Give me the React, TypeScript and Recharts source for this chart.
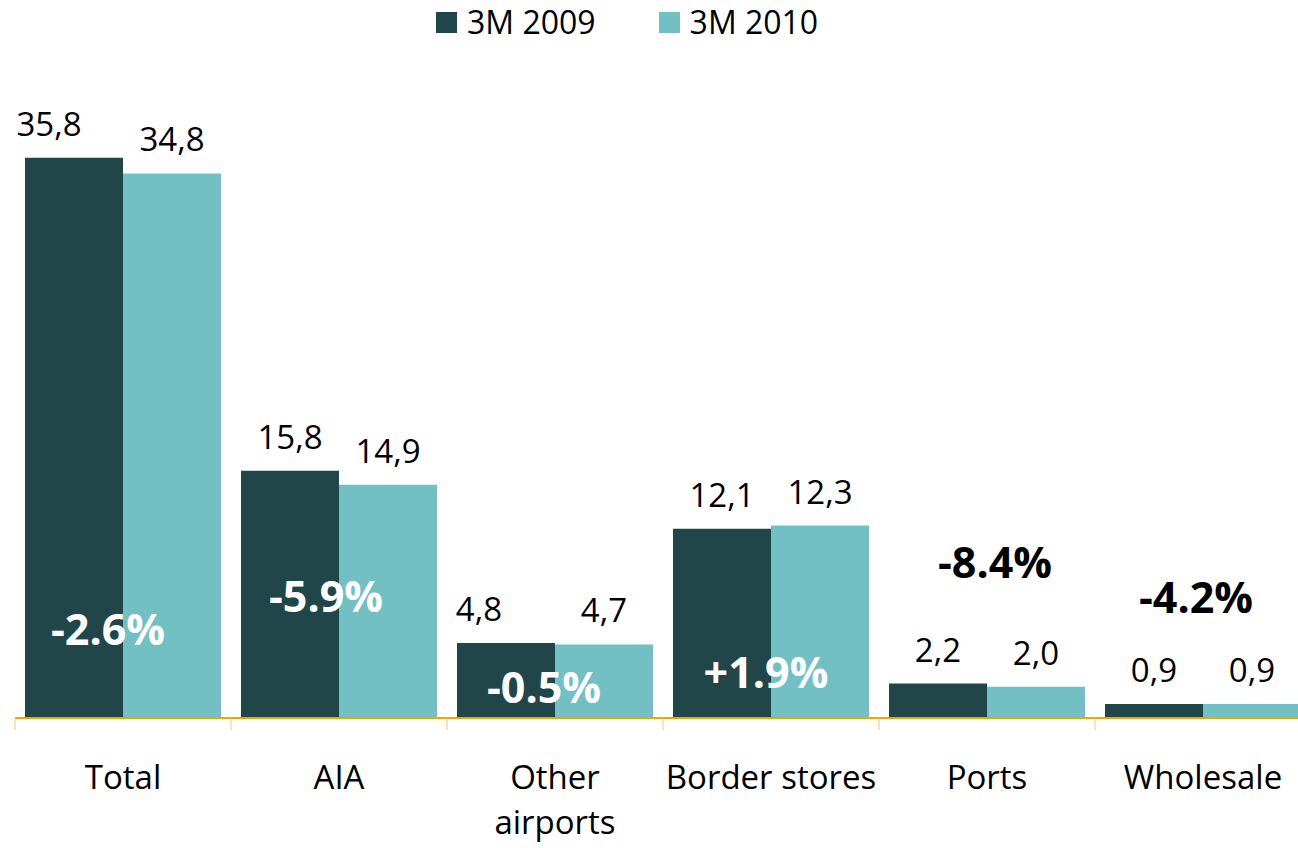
import { BarChart, Bar, XAxis, YAxis, LabelList } from 'recharts';

const categories = ['Total', 'AIA', 'Other airports', 'Border stores', 'Ports', 'Wholesale'];
const values2009 = [35.8, 15.8, 4.8, 12.1, 2.2, 0.9];
const values2010 = [34.8, 14.9, 4.7, 12.3, 2.0, 0.9];
const changes = ['-2.6%', '-5.9%', '-0.5%', '+1.9%', '-8.4%', '-4.2%'];

// where the change labels sit: lift above the baseline and shift from the category centre (px)
const changeLift = [88, 121, 30, 45, 155, 120];
const changeShift = [-15, -13, -11, -5, 8, -7];
// a couple of the 2009 value labels are nudged left in the original
const label2009Shift = [-25, 0, -27, 0, 0, 0];

const DARK = '#21464A';
const LIGHT = '#72BFC4';
const AXIS = '#F5A300';
const FONT = '"Open Sans", sans-serif';

const CHART_W = 1320;
const MARGIN = { top: 92, right: 9, left: 15, bottom: 30 };
const HALF_BAND = (CHART_W - MARGIN.left - MARGIN.right) / categories.length / 2;

const data = categories.map((name, i) => ({
  name,
  y2009: values2009[i],
  y2010: values2010[i],
  change: changes[i],
}));

const fmt = (v: number) => v.toFixed(1).replace('.', ',');

// eslint-disable-next-line @typescript-eslint/no-explicit-any
const valueLabel = (shifts?: number[]) => (props: any) => {
  const { x, y, width, value, index } = props;
  const dx = shifts ? shifts[index] : 0;
  return (
    <text x={x + width / 2 + dx} y={y - 22} textAnchor="middle" fontSize={33} fontFamily={FONT} fill="#000">
      {fmt(value)}
    </text>
  );
};

// eslint-disable-next-line @typescript-eslint/no-explicit-any
const changeLabel = (props: any) => {
  const { x, y, width, height, index } = props;
  const base = y + height;
  const lift = changeLift[index];
  const inside = lift < height;
  return (
    <text
      x={x + width + changeShift[index]}
      y={base - lift + 15}
      textAnchor="middle"
      fontSize={43}
      fontWeight={700}
      fontFamily={FONT}
      fill={inside ? '#fff' : '#000'}
    >
      {changes[index]}
    </text>
  );
};

// eslint-disable-next-line @typescript-eslint/no-explicit-any
const CategoryTick = (props: any) => {
  const { x, y, payload } = props;
  const words = String(payload.value) === 'Other airports' ? ['Other', 'airports'] : [String(payload.value)];
  return (
    <g>
      <line x1={x - HALF_BAND} y1={y} x2={x - HALF_BAND} y2={y + 12} stroke="#F9C46A" strokeWidth={1} />
      <text x={x} y={y + 71} textAnchor="middle" fontSize={33} fontFamily={FONT} fill="#000">
        {words.map((w, i) => (
          <tspan key={w} x={x} dy={i === 0 ? 0 : 45}>
            {w}
          </tspan>
        ))}
      </text>
    </g>
  );
};

function LegendItem({ color, label }: { color: string; label: string }) {
  return (
    <div style={{ display: 'flex', alignItems: 'center', height: 32 }}>
      <div style={{ width: 21, height: 21, background: color, marginRight: 10 }} />
      <span style={{ fontSize: 32, lineHeight: 1, color: '#000' }}>{label}</span>
    </div>
  );
}

export default function App() {
  return (
    <div
      style={{
        position: 'absolute',
        left: 0,
        top: 0,
        width: 1298,
        height: 848,
        overflow: 'hidden',
        background: '#fff',
        fontFamily: FONT,
      }}
    >
      <div style={{ position: 'absolute', top: 6, left: 436, display: 'flex', gap: 63 }}>
        <LegendItem color={DARK} label="3M 2009" />
        <LegendItem color={LIGHT} label="3M 2010" />
      </div>
      <BarChart
        width={CHART_W}
        height={848}
        data={data}
        margin={MARGIN}
        barCategoryGap={10}
        barGap={0}
      >
        <XAxis
          dataKey="name"
          height={100}
          tickLine={false}
          tickSize={0}
          tickMargin={0}
          axisLine={{ stroke: AXIS, strokeWidth: 2 }}
          tick={<CategoryTick />}
          interval={0}
        />
        <YAxis hide domain={[0, 40]} />
        <Bar dataKey="y2009" fill={DARK} isAnimationActive={false}>
          <LabelList dataKey="y2009" content={valueLabel(label2009Shift)} />
          <LabelList dataKey="change" content={changeLabel} />
        </Bar>
        <Bar dataKey="y2010" fill={LIGHT} isAnimationActive={false}>
          <LabelList dataKey="y2010" content={valueLabel()} />
        </Bar>
      </BarChart>
    </div>
  );
}
